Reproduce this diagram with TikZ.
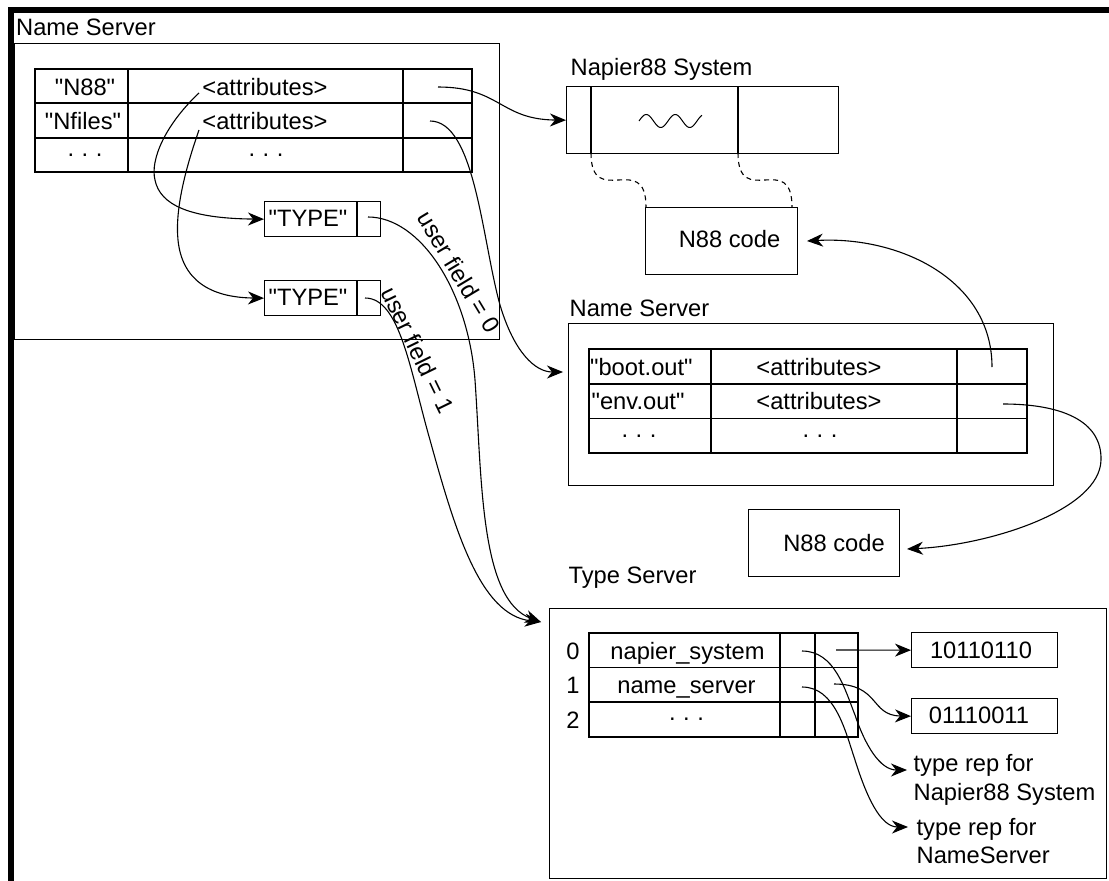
\documentclass[tikz,border=0pt]{standalone}
\usepackage{fontspec}
\setmainfont{Liberation Sans}
\usetikzlibrary{arrows.meta}
\newcommand\tridots{.\hspace{0.32em}.\hspace{0.32em}.}
\newcommand\qq{\textquotedbl}
\begin{document}
\begin{tikzpicture}[x=1pt,y=-1pt,line width=1.3pt,
  txt/.style={inner sep=0pt,font=\fontsize{23.7}{28.4}\selectfont},
  rbox/.style={draw,inner sep=0pt,anchor=north west},
  tip/.style={-{Stealth[length=16pt,width=13pt,inset=5pt]}},
  dashline/.style={dash pattern=on 5pt off 4pt},
  conn/.style={line width=1.1pt}]
\useasboundingbox (0,0) rectangle (1109,881);
% thick frame
\fill (8,7) rectangle (14,881);
\fill (8,7) rectangle (1109,13);

% ---------- left Name Server ----------
\node[txt,anchor=base west] (lnsT) at (15.5,35) {Name Server};
\node[rbox,minimum width=485pt,minimum height=296pt] (lns) at (14,43) {};
\draw (35,69) rectangle (472,172) (35,103) -- (472,103) (35,138) -- (472,138)
      (128,69) -- (128,172) (403,69) -- (403,172);
\node[txt,anchor=base] (k1) at (85,95) {\qq N88\qq};
\node[txt,anchor=base] (k2) at (83,129.5) {\qq Nfiles\qq};
\node[txt,anchor=base] (k3) at (85,156.5) {\tridots};
\node[txt,anchor=base] (at1) at (265,95) {<attributes>};
\node[txt,anchor=base] (at2) at (265,129.5) {<attributes>};
\node[txt,anchor=base] (at3) at (266,156.5) {\tridots};
\node[rbox,minimum width=116pt,minimum height=35pt] (ty1) at (264,201) {};
\draw (357,201) -- (357,236);
\node[txt,anchor=base] (ty1t) at (308,226.5) {\qq TYPE\qq};
\node[rbox,minimum width=116pt,minimum height=35pt] (ty2) at (264,280) {};
\draw (357,280) -- (357,315);
\node[txt,anchor=base] (ty2t) at (308,305.5) {\qq TYPE\qq};

% ---------- Napier88 System ----------
\node[txt,anchor=base west] (napT) at (570,75) {Napier88 System};
\node[rbox,minimum width=272pt,minimum height=67pt] (nap) at (566,86) {};
\draw (591,86) -- (591,153) (738,86) -- (738,153);
\draw[line width=1pt] plot[domain=0:63,samples=80,smooth] ({639+\x},{121-6.5*sin(\x*12.4138)});
\node[rbox,minimum width=152pt,minimum height=67pt] (code1) at (645,207) {};
\node[txt,anchor=base] (code1t) at (729.5,247) {N88 code};
\coordinate (d1) at (591,153);
\coordinate (d2) at (738,153);
\coordinate (e1) at (646,207);
\coordinate (e2) at (792,207);
\draw[conn,dashline] (d1) .. controls (591,210) and (646,150) .. (e1);
\draw[conn,dashline] (d2) .. controls (738,210) and (792,150) .. (e2);

% ---------- second Name Server ----------
\node[txt,anchor=base west] (ns2T) at (569,316) {Name Server};
\node[rbox,minimum width=485pt,minimum height=162pt] (ns2) at (568,323) {};
\draw (589,349) rectangle (1027,453) (589,384) -- (1027,384) (589,418.7) -- (1027,418.7)
      (711,349) -- (711,453) (957,349) -- (957,453);
\node[txt,anchor=base west] (b1) at (589.5,375) {\qq boot.out\qq};
\node[txt,anchor=base west] (b2) at (591,409.5) {\qq env.out\qq};
\node[txt,anchor=base] (b3) at (639,437.5) {\tridots};
\node[txt,anchor=base] (b4) at (819,375) {<attributes>};
\node[txt,anchor=base] (b5) at (819,409.5) {<attributes>};
\node[txt,anchor=base] (b6) at (820,437.5) {\tridots};
\node[rbox,minimum width=151pt,minimum height=67pt] (code2) at (748,509) {};
\node[txt,anchor=base] (code2t) at (834,551) {N88 code};

% ---------- Type Server ----------
\node[txt,anchor=base west] (tsT) at (568,583) {Type Server};
\node[rbox,minimum width=557pt,minimum height=270pt] (ts) at (549,608) {};
\draw (589,633) rectangle (858,737) (589,667.3) -- (858,667.3) (589,702) -- (858,702)
      (780,633) -- (780,737) (815,633) -- (815,737);
\node[txt,anchor=base] (r0) at (573,659) {0};
\node[txt,anchor=base] (r1) at (573,693.5) {1};
\node[txt,anchor=base] (r2) at (573,728) {2};
\node[txt,anchor=base] (s0) at (687.5,659) {napier\_system};
\node[txt,anchor=base] (s1) at (686.5,693.5) {name\_server};
\node[txt,anchor=base] (s2) at (686.5,720.6) {\tridots};
\node[rbox,minimum width=146pt,minimum height=35pt] (v1) at (911,632) {};
\node[txt,anchor=base] (v1t) at (981,658.5) {10110110};
\node[rbox,minimum width=146pt,minimum height=35pt] (v2) at (911,698) {};
\node[txt,anchor=base] (v2t) at (979,723.5) {01110011};
\node[txt,anchor=base west] (tr1a) at (913,771.5) {type rep for};
\node[txt,anchor=base west] (tr1b) at (913,800) {Napier88 System};
\node[txt,anchor=base west] (tr2a) at (916,835) {type rep for};
\node[txt,anchor=base west] (tr2b) at (916,863) {NameServer};

% ---------- connector end points ----------
\coordinate (pN88) at (438,87);
\coordinate (pNf) at (430,121);
\coordinate (a1) at (199,93);
\coordinate (a2) at (199,130);
\coordinate (pT1) at (368,217);
\coordinate (pT2) at (365,298);
\coordinate (tsIn) at (541,622);
\coordinate (nsIn) at (563,372);
\coordinate (pBoot) at (992,367);
\coordinate (pEnv) at (1003,404);
\coordinate (c1In) at (807,241);
\coordinate (c2In) at (907,549);
\coordinate (pV1) at (836,650);
\coordinate (pV2) at (834,684);
\coordinate (pR0) at (802,651);
\coordinate (pR1) at (802,687);
\coordinate (tr1In) at (907,770);
\coordinate (tr2In) at (908,827);

% ---------- connectors ----------
\draw[conn,tip] (pN88) .. controls (500,87) and (500,119.5) .. (nap.west);
\draw[conn,tip] (pNf) .. controls (475,121) and (482,240) .. (500,305) .. controls (514,352) and (535,372) .. (nsIn);
\draw[conn,tip] (a1) .. controls (165,125) and (150,160) .. (155,180) .. controls (160,205) and (190,218.5) .. (ty1.west);
\draw[conn,tip] (a2) .. controls (185,170) and (175,210) .. (178,240) .. controls (182,280) and (210,297.5) .. (ty2.west);
\draw[conn,tip] (pT1) .. controls (420,217) and (468,290) .. (475,380) .. controls (482,480) and (480,600) .. (tsIn);
\draw[conn,tip] (pT2) .. controls (400,298) and (410,370) .. (430,440) .. controls (455,530) and (480,615) .. (tsIn);
\draw[conn,tip] (pBoot) .. controls (992,280) and (900,236) .. (c1In);
\draw[conn,tip] (pEnv) .. controls (1060,404) and (1102,420) .. (1101,460) .. controls (1100,510) and (990,545) .. (c2In);
\draw[conn,tip] (pV1) -- (v1.west);
\draw[conn,tip] (pV2) .. controls (880,684) and (870,715.5) .. (v2.west);
\draw[conn,tip] (pR0) .. controls (835,651) and (845,690) .. (855,715) .. controls (865,745) and (880,770) .. (tr1In);
\draw[conn,tip] (pR1) .. controls (835,687) and (845,730) .. (855,760) .. controls (866,795) and (880,827) .. (tr2In);

\node[txt,rotate=-59] (uf0) at (459,272) {user field = 0};
\node[txt,rotate=-64] (uf1) at (418,350) {user field = 1};
\end{tikzpicture}
\end{document}
